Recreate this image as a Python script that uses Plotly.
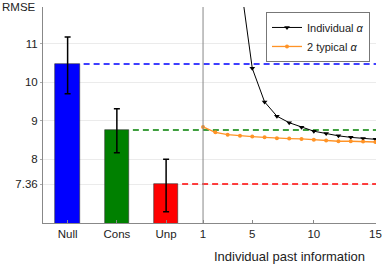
import plotly.graph_objects as go

# ---- data ----
bar_labels = ["Null", "Cons", "Unp"]
bar_pos = [-10, -6, -2]
bar_values = [10.47, 8.76, 7.36]
err_plus = [0.70, 0.55, 0.64]
err_minus = [0.77, 0.59, 0.72]
bar_colors = ["#0000ff", "#008000", "#ff0000"]

past_info = list(range(1, 16))
indiv_x = [4, 5, 6, 7, 8, 9, 10, 11, 12, 13, 14, 15]
indiv_alpha = [12.7, 10.36, 9.49, 9.12, 8.95, 8.83, 8.73, 8.67, 8.61, 8.57, 8.54, 8.52]
typical_alpha = [8.84, 8.70, 8.64, 8.61, 8.59, 8.57, 8.55, 8.54, 8.53, 8.51, 8.49, 8.47, 8.47, 8.46, 8.45]

y_ticks = [7.36, 8, 9, 10, 11]
y_ticklabels = ["7.36", "8", "9", "10", "11"]
x_ticks_right = [1, 5, 10, 15]

FONT = "Liberation Sans, Arial, sans-serif"

fig = go.Figure()

fig.add_trace(go.Bar(
    x=bar_pos, y=bar_values, width=2,
    marker=dict(color=bar_colors, line=dict(color="#333333", width=0.6)),
    error_y=dict(type="data", symmetric=False, array=err_plus, arrayminus=err_minus,
                 color="black", thickness=1.5, width=3),
    showlegend=False, hoverinfo="skip",
))

# dashed reference lines from each bar to the right edge
for p, v, c in zip(bar_pos, bar_values, bar_colors):
    fig.add_trace(go.Scatter(
        x=[p + 1.3, past_info[-1] + 0.05], y=[v, v], mode="lines",
        line=dict(color=c, width=1.5, dash="6px,4px"),
        showlegend=False, hoverinfo="skip",
    ))

fig.add_trace(go.Scatter(
    x=indiv_x, y=indiv_alpha, mode="lines+markers", name="Individual <i>α</i>",
    line=dict(color="black", width=1),
    marker=dict(symbol="triangle-down", size=5, color="black"),
))
fig.add_trace(go.Scatter(
    x=past_info, y=typical_alpha, mode="lines+markers", name="2 typical <i>α</i>",
    line=dict(color="#ff9326", width=1.3),
    marker=dict(symbol="circle", size=4, color="#ff9326"),
))

# separator between the two panels
fig.add_shape(type="line", xref="x", yref="paper", x0=past_info[0], x1=past_info[0],
              y0=0, y1=1, line=dict(color="#888888", width=1))

fig.update_layout(
    width=388, height=264,
    margin=dict(l=43, r=6, t=7, b=41),
    paper_bgcolor="white", plot_bgcolor="white",
    font=dict(family=FONT, size=11.5, color="#222222"),
    bargap=0,
    legend=dict(x=0.982, y=0.977, xanchor="right", yanchor="top",
                bordercolor="#777777", borderwidth=1, bgcolor="white",
                font=dict(size=11, family=FONT), tracegroupgap=0, itemwidth=30),
    xaxis=dict(
        range=[-12, 15.05],
        tickvals=bar_pos + x_ticks_right,
        ticktext=bar_labels + [str(t) for t in x_ticks_right],
        showgrid=False, zeroline=False,
        showline=True, linecolor="#888888", linewidth=1,
        ticks="inside", ticklen=3, tickcolor="#888888",
        tickfont=dict(size=11.5),
    ),
    yaxis=dict(
        range=[6.35, 11.95],
        tickvals=y_ticks, ticktext=y_ticklabels,
        showgrid=True, gridcolor="#ebebeb", gridwidth=1,
        zeroline=False,
        showline=True, linecolor="#888888", linewidth=1,
        ticks="outside", ticklen=2, tickcolor="#aaaaaa",
        tickfont=dict(size=11.5),
    ),
    annotations=[
        dict(text="RMSE", xref="paper", yref="paper", x=0, y=1, xanchor="right",
             yanchor="middle", xshift=-5, showarrow=False, font=dict(size=11.5)),
        dict(text="Individual past information", xref="x", yref="paper", x=8, y=0,
             xanchor="center", yanchor="middle", yshift=-33, showarrow=False,
             font=dict(size=13)),
    ],
)

fig.write_html("out.html", config={"displayModeBar": False},
               post_script="document.body.style.margin='0';")
